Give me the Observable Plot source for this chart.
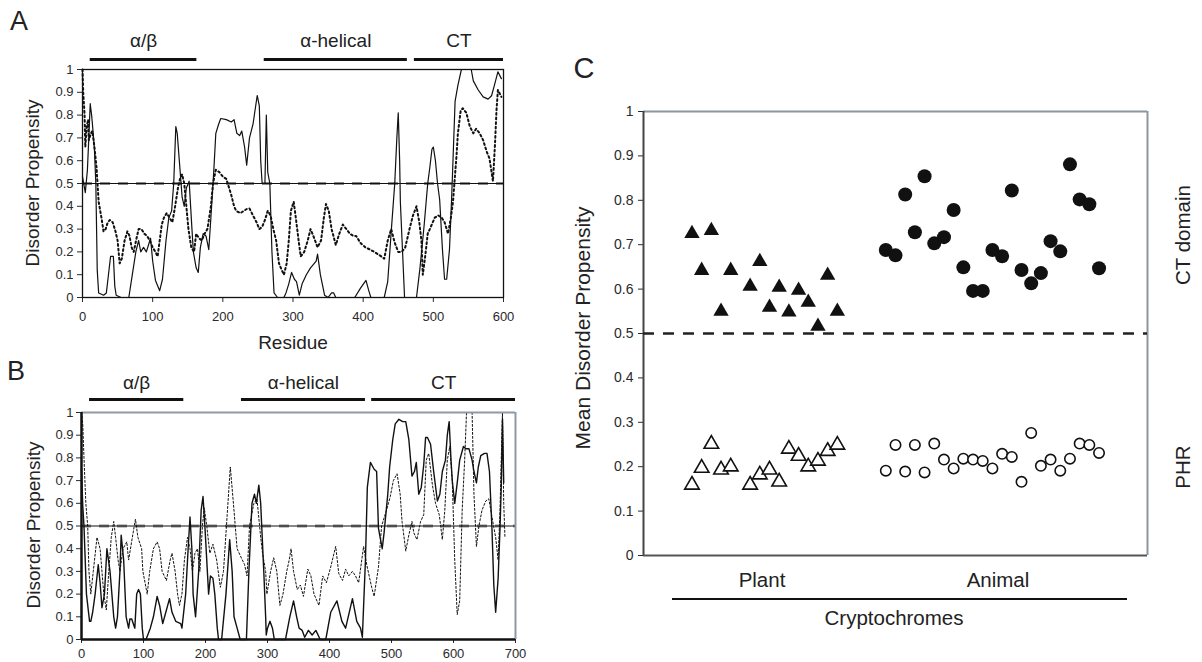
<!DOCTYPE html>
<html><head><meta charset="utf-8">
<script src="https://cdn.jsdelivr.net/npm/d3@7"></script>
<script src="https://cdn.jsdelivr.net/npm/@observablehq/plot@0.6"></script>
<style>
body{margin:0;background:#fff;}
#fig{position:relative;width:1202px;height:662px;overflow:hidden;font-family:"Liberation Sans",Arial,sans-serif;color:#222;background:#fff;}
.lbl{position:absolute;white-space:nowrap;line-height:1;transform-origin:center center;}
.panel{position:absolute;}
</style></head><body><div id="fig"></div>
<script>
// ---------- DATA ----------
const yTicks = [0,0.1,0.2,0.3,0.4,0.5,0.6,0.7,0.8,0.9,1];
const aXTicks = [0,100,200,300,400,500,600];
const bXTicks = [0,100,200,300,400,500,600,700];
const threshold = 0.5;

const aDomainNames = ["α/β","α-helical","CT"];
const aDomainStart = [11,259,473];
const aDomainEnd   = [163,463,600];
const bDomainNames = ["α/β","α-helical","CT"];
const bDomainStart = [13,258,468];
const bDomainEnd   = [165,458,700];

// Panel A, solid trace
const aSolidRes = [0,4,7,9,11,13,15,17,19,21,23,30,34,37,40,44,46,48,55,66,71,76,80,83,87,91,97,100,104,110,114,119,123,127,130,133,135,138,142,145,148,152,156,158,162,165,168,172,176,180,184,187,190,194,197,205,212,216,220,224,227,231,234,238,243,249,252,254,256,260,262,264,267,270,273,278,287,290,294,298,302,305,309,313,319,325,333,335,339,345,350,355,358,361,388,396,404,408,411,430,435,440,445,448,450,452,453,456,459,476,481,487,492,495,498,500,503,506,509,513,516,519,523,526,528,531,535,540,554,557,564,571,578,583,587,592,597];
const aSolidVal = [0.53,0.46,0.56,0.70,0.85,0.80,0.73,0.65,0.50,0.12,0.02,0.01,0.02,0.10,0.18,0.18,0.05,0.01,0,0,0.10,0.20,0.25,0.20,0.22,0.20,0.26,0.16,0.075,0.03,0.08,0.25,0.35,0.38,0.50,0.75,0.72,0.60,0.44,0.40,0.48,0.51,0.30,0.20,0.13,0.11,0.22,0.28,0.27,0.21,0.40,0.55,0.72,0.76,0.785,0.78,0.77,0.78,0.72,0.71,0.73,0.66,0.58,0.70,0.76,0.886,0.84,0.60,0.50,0.50,0.80,0.55,0.50,0.20,0.02,0,0,0.02,0.06,0.11,0.08,0.07,0.01,0.06,0.10,0.13,0.16,0.19,0.10,0.01,0,0.02,0.02,0,0,0.04,0.075,0.03,0,0,0.07,0.29,0.50,0.70,0.81,0.60,0.42,0.21,0,0,0.13,0.32,0.50,0.57,0.65,0.66,0.60,0.50,0.43,0.21,0.08,0.08,0.21,0.43,0.60,0.86,0.93,1.0,1.0,0.95,0.91,0.88,0.87,0.885,0.93,0.99,0.96];
// Panel A, dotted trace
const aDotRes = [0,1,3,4,6,8,9,12,14,17,20,23,27,30,33,36,39,43,47,50,53,56,60,64,67,70,73,77,80,84,88,92,96,100,104,107,110,113,116,120,124,128,132,136,139,142,145,148,151,155,159,162,166,170,174,178,183,186,190,195,200,205,207,212,216,219,225,230,235,238,243,248,252,256,260,264,268,272,276,280,284,287,291,294,297,301,304,308,311,316,321,325,329,335,340,344,347,351,355,361,366,371,376,381,386,390,396,403,410,416,421,426,430,435,440,445,450,455,460,466,471,476,480,483,485,488,492,495,502,507,512,516,521,525,528,530,533,535,539,542,547,552,557,561,566,571,576,580,583,585,588,590,592,597];
const aDotVal = [1.0,0.9,0.8,0.66,0.75,0.78,0.69,0.72,0.73,0.66,0.57,0.42,0.35,0.29,0.30,0.33,0.34,0.33,0.29,0.25,0.15,0.17,0.25,0.29,0.27,0.22,0.20,0.26,0.30,0.30,0.28,0.27,0.25,0.22,0.20,0.18,0.25,0.32,0.35,0.37,0.35,0.33,0.40,0.48,0.52,0.54,0.50,0.40,0.30,0.22,0.20,0.28,0.26,0.25,0.28,0.30,0.40,0.50,0.56,0.55,0.53,0.52,0.50,0.45,0.40,0.38,0.37,0.38,0.39,0.39,0.36,0.33,0.30,0.31,0.34,0.38,0.36,0.30,0.25,0.15,0.12,0.10,0.15,0.25,0.38,0.42,0.35,0.25,0.18,0.20,0.25,0.30,0.27,0.22,0.25,0.35,0.41,0.38,0.30,0.23,0.28,0.32,0.30,0.28,0.27,0.27,0.24,0.22,0.21,0.20,0.19,0.18,0.17,0.25,0.30,0.24,0.20,0.20,0.22,0.30,0.36,0.40,0.33,0.25,0.10,0.17,0.28,0.30,0.35,0.36,0.35,0.33,0.28,0.35,0.42,0.50,0.62,0.72,0.82,0.83,0.81,0.75,0.72,0.74,0.72,0.69,0.64,0.61,0.55,0.51,0.68,0.82,0.91,0.88];

// Panel B, solid trace
const bSolidRes = [0,2,4,8,13,15,18,22,27,30,33,37,41,46,52,55,58,62,64,68,72,76,78,81,86,89,92,95,98,100,104,111,116,122,126,131,136,142,146,152,160,162,168,172,175,178,180,184,189,193,196,199,205,208,212,215,219,221,226,233,239,243,246,251,256,266,270,275,279,282,286,289,294,297,298,300,304,308,311,329,336,342,347,351,356,360,366,372,378,385,394,402,412,420,426,437,444,450,453,458,461,466,472,476,479,485,488,494,497,502,506,512,518,523,528,533,537,540,544,548,552,555,558,563,568,574,578,582,587,590,593,596,598,602,606,610,616,620,625,630,633,637,640,644,650,654,658,662,665,668,672,675,677,679,681];
const bSolidVal = [0.75,0.59,0.50,0.20,0.08,0.08,0.12,0.20,0.33,0.25,0.14,0.20,0.40,0.30,0.10,0.05,0.10,0.30,0.46,0.35,0.10,0.05,0.09,0.09,0.05,0.20,0.22,0.20,0.05,0,0,0.05,0.10,0.19,0.15,0.07,0.12,0.18,0.12,0.08,0.07,0.05,0.20,0.40,0.54,0.40,0.20,0.10,0.30,0.57,0.63,0.50,0.20,0.28,0.27,0.20,0.05,0,0,0.20,0.44,0.30,0.10,0.05,0,0,0.30,0.60,0.64,0.60,0.68,0.60,0.30,0.10,0.02,0.05,0.08,0.05,0,0,0.10,0.17,0.10,0.05,0.04,0.01,0.04,0.02,0.04,0,0,0.12,0.17,0.08,0.05,0.18,0.08,0.05,0.01,0.35,0.67,0.78,0.75,0.74,0.49,0.40,0.47,0.64,0.76,0.88,0.95,0.97,0.96,0.96,0.88,0.72,0.74,0.78,0.64,0.67,0.77,0.89,0.89,0.86,0.74,0.61,0.64,0.74,0.79,0.90,0.96,0.79,0.70,0.60,0.69,0.79,0.85,0.84,0.84,0.79,0.74,0.69,0.76,0.81,0.82,0.82,0.74,0.49,0.24,0.12,0.27,0.49,0.67,0.97,0.69];
// Panel B, dotted trace
const bDotRes = [0,2,4,7,10,12,15,19,25,30,36,40,44,48,52,55,59,62,67,73,76,82,87,91,97,99,106,110,116,122,126,130,137,143,146,151,155,158,162,166,171,175,179,183,187,191,195,198,202,207,212,218,224,229,235,240,245,251,256,263,267,271,278,283,289,292,297,299,305,310,315,320,325,331,335,338,342,348,353,358,365,370,375,383,389,395,402,410,415,421,426,431,437,442,447,455,460,468,472,479,484,492,498,503,509,514,517,523,528,533,536,541,547,552,556,560,566,571,577,582,586,590,594,598,602,606,610,614,618,621,630,633,637,641,646,652,657,662,668,672,675,677,679,681,683];
const bDotVal = [1.0,0.95,0.80,0.60,0.50,0.30,0.20,0.30,0.45,0.40,0.20,0.13,0.30,0.45,0.52,0.45,0.35,0.30,0.40,0.43,0.35,0.45,0.53,0.45,0.40,0.30,0.20,0.30,0.40,0.43,0.40,0.30,0.26,0.35,0.38,0.30,0.20,0.15,0.20,0.35,0.45,0.40,0.30,0.38,0.40,0.30,0.50,0.58,0.50,0.38,0.42,0.35,0.23,0.30,0.55,0.76,0.60,0.40,0.37,0.33,0.28,0.50,0.60,0.62,0.45,0.38,0.30,0.20,0.30,0.36,0.30,0.15,0.20,0.30,0.35,0.40,0.30,0.22,0.24,0.19,0.31,0.28,0.20,0.15,0.28,0.25,0.32,0.41,0.29,0.26,0.31,0.28,0.30,0.28,0.25,0.41,0.33,0.23,0.19,0.32,0.50,0.57,0.63,0.70,0.73,0.64,0.52,0.39,0.46,0.52,0.47,0.44,0.52,0.55,0.79,0.82,0.68,0.60,0.55,0.44,0.57,0.79,0.85,0.70,0.35,0.11,0.17,0.57,0.79,1.0,1.0,0.64,0.41,0.50,0.57,0.61,0.62,0.54,0.45,0.35,0.57,0.79,1.0,0.60,0.45];

// Panel C, mean disorder propensity per cryptochrome
const groupNames = ["Plant","Animal"];
const plantIndex = [1,2,3,4,5,7,8,9,10,11,12,13,14,15,16];
const plantCT  = [0.725,0.642,0.732,0.550,0.642,0.606,0.662,0.559,0.604,0.548,0.597,0.570,0.516,0.631,0.550];
const plantPHR = [0.159,0.197,0.251,0.193,0.200,0.159,0.182,0.193,0.166,0.240,0.224,0.200,0.213,0.235,0.249];
const animalIndex = [21,22,23,24,25,26,27,28,29,30,31,32,33,34,35,36,37,38,39,40,41,42,43];
const animalCT  = [0.688,0.676,0.813,0.728,0.854,0.703,0.717,0.778,0.649,0.596,0.596,0.688,0.674,0.822,0.643,0.613,0.636,0.708,0.685,0.881,0.802,0.791,0.647];
const animalPHR = [0.191,0.249,0.189,0.249,0.187,0.252,0.216,0.196,0.218,0.216,0.213,0.196,0.229,0.222,0.166,0.276,0.202,0.216,0.191,0.218,0.252,0.249,0.231];

// ---------- DRAW ----------
const FONT = '"Liberation Sans", Arial, sans-serif';
const fig = document.getElementById("fig");
const fmt = d => d === 0 ? "0" : d === 1 ? "1" : d.toFixed(1);
const pairs = (xs, ys) => xs.map((x, i) => ({x, y: ys[i]}));
const domains = (n, s, e) => n.map((name, i) => ({name, start: s[i], end: e[i], mid: (s[i] + e[i]) / 2}));

function place(svg, left, top) {
  const d = document.createElement("div");
  d.className = "panel"; d.style.left = left + "px"; d.style.top = top + "px";
  d.appendChild(svg); fig.appendChild(d);
}
function label(text, cx, cy, size, rot) {
  const d = document.createElement("div");
  d.className = "lbl"; d.textContent = text;
  d.style.fontSize = size + "px";
  d.style.left = cx + "px"; d.style.top = cy + "px";
  d.style.transform = `translate(-50%,-50%)` + (rot ? ` rotate(${rot}deg)` : "");
  fig.appendChild(d);
}

// Panel A
const aDom = domains(aDomainNames, aDomainStart, aDomainEnd);
place(Plot.plot({
  width: 560, height: 360, marginLeft: 82, marginRight: 57, marginTop: 69, marginBottom: 63,
  style: {fontFamily: FONT, fontSize: "13px", color: "#2a2a2a", background: "transparent", overflow: "visible"},
  x: {domain: [0, 600], ticks: aXTicks, tickSize: 5, tickPadding: 9, label: null, tickFormat: d => String(d)},
  y: {domain: [0, 1], ticks: yTicks, tickSize: 5, tickPadding: 4, label: null, tickFormat: fmt},
  marks: [
    Plot.ruleY([threshold], {stroke: "#8a8a8a", strokeWidth: 3, strokeDasharray: "10,8"}),
    Plot.ruleY([threshold], {stroke: "#111", strokeWidth: 1}),
    Plot.line(pairs(aDotRes, aDotVal), {x: "x", y: "y", stroke: "#111", strokeWidth: 2, strokeDasharray: "1.8,2.8"}),
    Plot.line(pairs(aSolidRes, aSolidVal), {x: "x", y: "y", stroke: "#111", strokeWidth: 1.2}),
    Plot.frame({stroke: "#111", strokeWidth: 1.3}),
    Plot.ruleY(aDom, {x1: "start", x2: "end", y: 1.044, stroke: "#111", strokeWidth: 3}),
    Plot.text(aDom, {x: "mid", y: 1.127, text: "name", fontSize: 19, fill: "#222"})
  ]
}), 0, 0);

// Panel B
const bDom = domains(bDomainNames, bDomainStart, bDomainEnd);
place(Plot.plot({
  width: 560, height: 292, marginLeft: 81, marginRight: 45, marginTop: 42, marginBottom: 23,
  style: {fontFamily: FONT, fontSize: "13px", color: "#2a2a2a", background: "transparent", overflow: "visible"},
  x: {domain: [0, 700], ticks: bXTicks, tickSize: 4, tickPadding: 5, label: null, tickFormat: d => String(d)},
  y: {domain: [0, 1], ticks: yTicks, tickSize: 5, tickPadding: 3, label: null, tickFormat: fmt},
  marks: [
    Plot.ruleY([threshold], {stroke: "#8a8a8a", strokeWidth: 3, strokeDasharray: "10,8"}),
    Plot.ruleY([threshold], {stroke: "#111", strokeWidth: 1}),
    Plot.line(pairs(bDotRes, bDotVal), {x: "x", y: "y", stroke: "#111", strokeWidth: 1, strokeDasharray: "2,2"}),
    Plot.line(pairs(bSolidRes, bSolidVal), {x: "x", y: "y", stroke: "#111", strokeWidth: 1.4}),
    Plot.ruleY([1], {stroke: "#8d99a6", strokeWidth: 2}),
    Plot.ruleX([700], {stroke: "#8d99a6", strokeWidth: 2}),
    Plot.ruleX([0], {stroke: "#111", strokeWidth: 2.5}),
    Plot.ruleY([0], {stroke: "#111", strokeWidth: 2.5}),
    Plot.ruleY(bDom, {x1: "start", x2: "end", y: 1.057, stroke: "#111", strokeWidth: 3}),
    Plot.text(bDom, {x: "mid", y: 1.132, text: "name", fontSize: 19, fill: "#222"})
  ]
}), 0, 370);

// Panel C
place(Plot.plot({
  width: 642, height: 612, marginLeft: 83, marginRight: 55, marginTop: 61, marginBottom: 107,
  style: {fontFamily: FONT, fontSize: "14px", color: "#2a2a2a", background: "transparent", overflow: "visible"},
  x: {domain: [-4, 48], axis: null},
  y: {domain: [0, 1], ticks: yTicks, tickSize: 5, tickPadding: 5, label: null, tickFormat: fmt},
  marks: [
    Plot.ruleY([1], {stroke: "#8c96a0", strokeWidth: 2}),
    Plot.ruleX([48], {stroke: "#8c96a0", strokeWidth: 2}),
    Plot.ruleX([-4], {stroke: "#444", strokeWidth: 2}),
    Plot.ruleY([0], {stroke: "#555", strokeWidth: 2}),
    Plot.ruleY([threshold], {stroke: "#222", strokeWidth: 2.5, strokeDasharray: "11,9"}),
    Plot.dot(pairs(plantIndex, plantCT), {x: "x", y: "y", symbol: "triangle", fill: "#111", r: 5.7}),
    Plot.dot(pairs(plantIndex, plantPHR), {x: "x", y: "y", symbol: "triangle", fill: "#fff", stroke: "#111", strokeWidth: 1.6, r: 5.4}),
    Plot.dot(pairs(animalIndex, animalCT), {x: "x", y: "y", symbol: "circle", fill: "#111", r: 7}),
    Plot.dot(pairs(animalIndex, animalPHR), {x: "x", y: "y", symbol: "circle", fill: "#fff", stroke: "#111", strokeWidth: 1.6, r: 5.2})
  ]
}), 560, 50);

// Text labels
label("A", 19, 21, 27);
label("B", 16, 371, 27);
label("C", 584, 68, 29);
label("Disorder Propensity", 32, 183, 19, -90);
label("Residue", 293, 342, 19);
label("Disorder Propensity", 33, 525, 19, -90);
label("Mean Disorder Propensity", 582, 328, 21, -90);
label("CT domain", 1183, 235, 20.5, -90);
label("PHR", 1183, 467, 20.5, -90);
label(groupNames[0], 762, 580, 20.5);
label(groupNames[1], 998, 580, 20.5);
label("Cryptochromes", 894, 618, 20.5);
const bar = document.createElement("div");
bar.style.cssText = "position:absolute;left:672px;top:598px;width:455px;height:2px;background:#111;";
fig.appendChild(bar);
</script></body></html>
